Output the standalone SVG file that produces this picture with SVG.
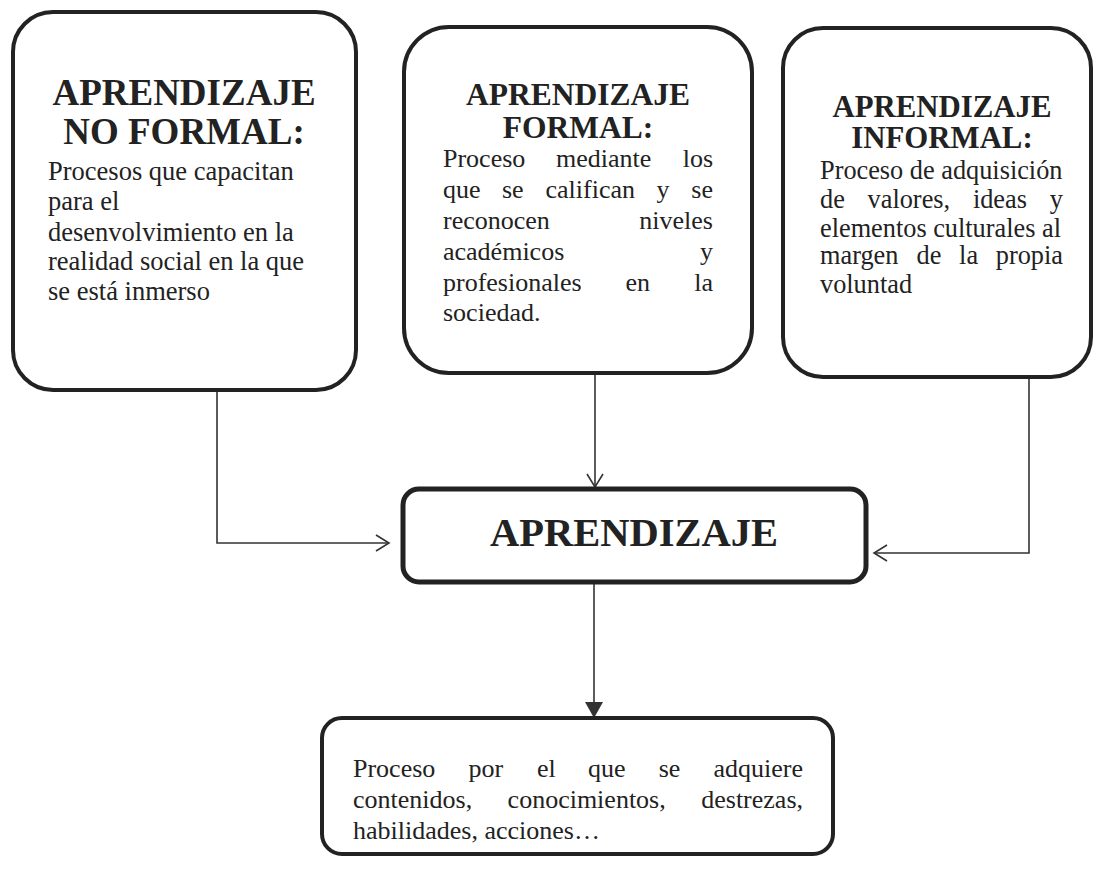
<svg xmlns="http://www.w3.org/2000/svg" width="1095" height="880" viewBox="0 0 1095 880">
<defs>
<style>
.box{fill:#fff;stroke:#222;stroke-width:4}
.title{font-family:"Liberation Serif","Times New Roman",serif;font-weight:bold;fill:#222;text-anchor:middle}
.body{font-family:"Liberation Serif","Times New Roman",serif;font-size:26px;fill:#222}
.conn{fill:none;stroke:#333;stroke-width:1.6}
.e{text-anchor:end}
</style>
<marker id="open" markerUnits="userSpaceOnUse" markerWidth="16" markerHeight="20" refX="14" refY="9" orient="auto">
<path d="M1,1 L14,9 L1,17" fill="none" stroke="#333" stroke-width="1.6"/>
</marker>
<marker id="solid" markerUnits="userSpaceOnUse" markerWidth="18" markerHeight="20" refX="16" refY="9" orient="auto">
<path d="M0,0 L16,9 L0,18 Z" fill="#333"/>
</marker>
</defs>
<rect width="1095" height="880" fill="#fff"/>
<g id="connectors">
<path class="conn" d="M217,390 V543 H389" marker-end="url(#open)"/>
<path class="conn" d="M595,373 V487" marker-end="url(#open)"/>
<path class="conn" d="M1029,377 V553 H874" marker-end="url(#open)"/>
<path class="conn" d="M594,582 V718" marker-end="url(#solid)"/>
</g>
<g id="no-formal">
<rect class="box" x="13" y="12" width="343" height="378" rx="40"/>
<text class="title" font-size="37" x="184" y="105">APRENDIZAJE</text>
<text class="title" font-size="37" x="184" y="144">NO FORMAL:</text>
<text class="body" font-size="26.5" style="font-size:26.5px" x="48" y="180">Procesos que capacitan</text>
<text class="body" style="font-size:26.5px" x="48" y="210">para el</text>
<text class="body" style="font-size:26.5px" x="48" y="241">desenvolvimiento en la</text>
<text class="body" style="font-size:26.5px" x="48" y="270">realidad social en la que</text>
<text class="body" style="font-size:26.5px" x="48" y="300">se está inmerso</text>
</g>
<g id="formal">
<rect class="box" x="404" y="27" width="348" height="346" rx="45"/>
<text class="title" font-size="31.5" x="578" y="105">APRENDIZAJE</text>
<text class="title" font-size="31.5" x="578" y="138">FORMAL:</text>
<text class="body" y="167"><tspan x="443">Proceso</tspan><tspan x="556">mediante</tspan><tspan x="713" class="e">los</tspan></text>
<text class="body" y="198"><tspan x="443">que</tspan><tspan x="502">se</tspan><tspan x="545.5">califican</tspan><tspan x="656.5">y</tspan><tspan x="713" class="e">se</tspan></text>
<text class="body" y="229"><tspan x="443">reconocen</tspan><tspan x="713" class="e">niveles</tspan></text>
<text class="body" y="260"><tspan x="443">académicos</tspan><tspan x="713" class="e">y</tspan></text>
<text class="body" y="291"><tspan x="443">profesionales</tspan><tspan x="625.5">en</tspan><tspan x="713" class="e">la</tspan></text>
<text class="body" x="443" y="321">sociedad.</text>
</g>
<g id="informal">
<rect class="box" x="783" y="28" width="308" height="349" rx="40"/>
<text class="title" font-size="30.8" x="942" y="117">APRENDIZAJE</text>
<text class="title" font-size="30.8" x="942" y="148">INFORMAL:</text>
<text class="body" style="font-size:26.3px" x="820" y="179">Proceso de adquisición</text>
<text class="body" style="font-size:26.3px" y="208"><tspan x="820">de</tspan><tspan x="867.6">valores,</tspan><tspan x="972.9">ideas</tspan><tspan x="1063" class="e">y</tspan></text>
<text class="body" style="font-size:26.3px" x="820" y="237">elementos culturales al</text>
<text class="body" style="font-size:26.3px" y="264"><tspan x="820">margen</tspan><tspan x="916.6">de</tspan><tspan x="959.1">la</tspan><tspan x="1063" class="e">propia</tspan></text>
<text class="body" style="font-size:26.3px" x="820" y="293">voluntad</text>
</g>
<g id="aprendizaje">
<rect class="box" x="403" y="489" width="463" height="93" rx="16" style="stroke-width:5"/>
<text class="title" font-size="40.5" x="634" y="546">APRENDIZAJE</text>
</g>
<g id="definicion">
<rect class="box" x="322" y="718" width="511" height="136" rx="20"/>
<text class="body" y="777"><tspan x="353">Proceso</tspan><tspan x="468.4">por</tspan><tspan x="537">el</tspan><tspan x="588.1">que</tspan><tspan x="658.7">se</tspan><tspan x="803" class="e">adquiere</tspan></text>
<text class="body" y="808"><tspan x="353">contenidos,</tspan><tspan x="507.6">conocimientos,</tspan><tspan x="803" class="e">destrezas,</tspan></text>
<text class="body" x="353" y="839">habilidades, acciones…</text>
</g>
</svg>
